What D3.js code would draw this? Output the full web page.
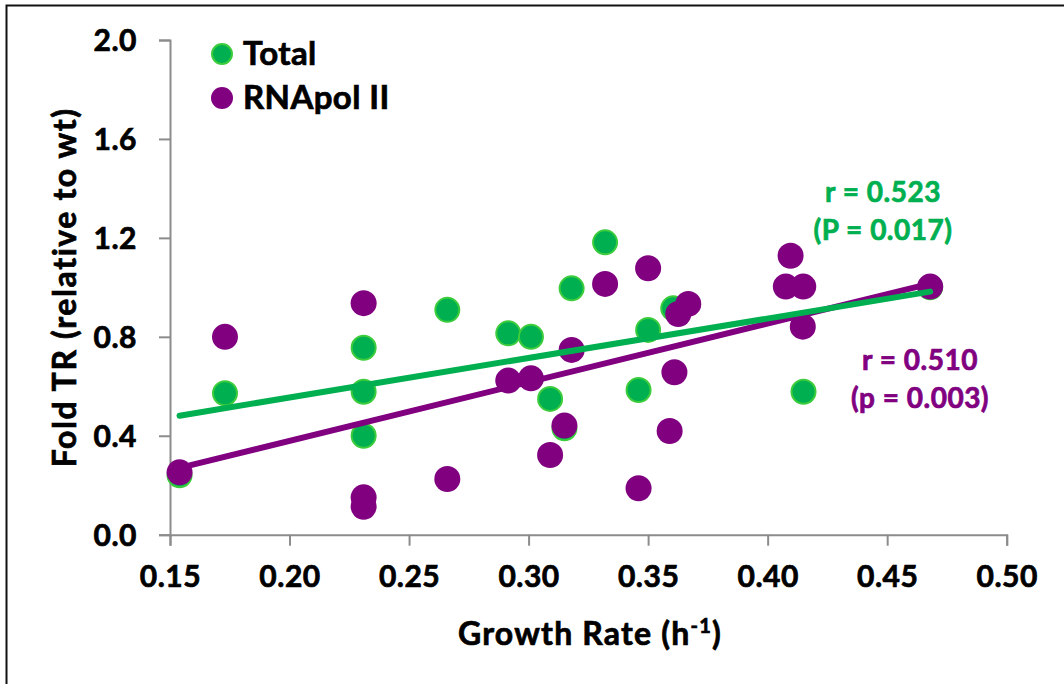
<!DOCTYPE html>
<html>
<head>
<meta charset="utf-8">
<script src="https://cdn.jsdelivr.net/npm/d3@7"></script>
<style>
  body { margin: 0; background: #fff; }
  svg text { font-family: Lato, "Open Sans", sans-serif; font-weight: bold; stroke: currentColor; stroke-width: 0.7px; paint-order: stroke; }
</style>
</head>
<body>
<div id="chart"></div>
<script>
// growth rate (h-1) and fold TR
var totalX = [0.154, 0.173, 0.231, 0.231, 0.231, 0.266, 0.2915, 0.301, 0.309, 0.315, 0.318, 0.332, 0.346, 0.350, 0.3605, 0.415, 0.468];
var totalY = [0.24, 0.572, 0.756, 0.578, 0.400, 0.909, 0.814, 0.800, 0.549, 0.43, 0.996, 1.182, 0.585, 0.828, 0.915, 0.578, 1.0];

var polX = [0.154, 0.173, 0.231, 0.231, 0.231, 0.266, 0.2915, 0.301, 0.309, 0.315, 0.318, 0.332, 0.346, 0.350, 0.359, 0.361, 0.3626, 0.3668, 0.4076, 0.4096, 0.4149, 0.4147, 0.468];
var polY = [0.252, 0.80, 0.936, 0.151, 0.113, 0.225, 0.623, 0.632, 0.322, 0.441, 0.747, 1.014, 0.188, 1.077, 0.419, 0.657, 0.892, 0.933, 1.003, 1.128, 1.003, 0.841, 1.003];

var xTicks = [0.15, 0.20, 0.25, 0.30, 0.35, 0.40, 0.45, 0.50];
var yTicks = [0.0, 0.4, 0.8, 1.2, 1.6, 2.0];

var seriesNames = ["Total", "RNApol II"];
var statsTotal = ["r = 0.523", "(P = 0.017)"];
var statsPol = ["r = 0.510", "(p = 0.003)"];

var green = "#00b050", greenEdge = "#3ccc3c", purple = "#800080";

var W = 1064, H = 684;
var margin = {top: 40, right: 57.3, bottom: 149.3, left: 170};

var svg = d3.select("#chart")
  .append("svg")
    .attr("width", W)
    .attr("height", H);

// outer frame
svg.append("rect")
  .attr("x", 6.5).attr("y", 5.5)
  .attr("width", W + 10).attr("height", H + 10)
  .attr("fill", "none")
  .attr("stroke", "#111")
  .attr("stroke-width", 2);

var x = d3.scaleLinear()
  .domain([0.15, 0.50])
  .range([margin.left, W - margin.right]);

var y = d3.scaleLinear()
  .domain([0, 2])
  .range([H - margin.bottom, margin.top]);

// axes
var xAxis = svg.append("g")
  .attr("transform", "translate(0," + y(0) + ")")
  .call(d3.axisBottom(x).tickValues(xTicks).tickFormat(d3.format(".2f")).tickSizeOuter(0).tickSize(11).tickPadding(20));

var yAxis = svg.append("g")
  .attr("transform", "translate(" + x(0.15) + ",0)")
  .call(d3.axisLeft(y).tickValues(yTicks).tickFormat(d3.format(".1f")).tickSizeOuter(0).tickSize(11).tickPadding(22));

[xAxis, yAxis].forEach(function(a) {
  a.selectAll("path, line").attr("stroke", "#8c8c8c").attr("stroke-width", 2);
  a.selectAll("text").attr("fill", "#000").style("color", "#000").style("font-size", "30px").style("letter-spacing", "0.5px");
});
yAxis.selectAll("text").attr("dy", "0.36em");

// axis titles
var xt = svg.append("text")
  .attr("x", 590).attr("y", 645)
  .attr("text-anchor", "middle")
  .style("font-size", "32px")
  .style("letter-spacing", "1.2px");
xt.append("tspan").text("Growth Rate (h");
xt.append("tspan").attr("dy", -12).style("font-size", "20px").text("-1");
xt.append("tspan").attr("dy", 12).text(")");

svg.append("text")
  .attr("transform", "translate(76," + ((y(0) + y(2)) / 2) + ") rotate(-90)")
  .attr("text-anchor", "middle")
  .style("font-size", "32px")
  .style("letter-spacing", "1.6px")
  .text("Fold TR (relative to wt)");

// least squares fit
function fit(xs, ys) {
  var mx = d3.mean(xs), my = d3.mean(ys);
  var sxy = d3.sum(xs, function(v, i) { return (v - mx) * (ys[i] - my); });
  var sxx = d3.sum(xs, function(v) { return (v - mx) * (v - mx); });
  var b = sxy / sxx;
  var x0 = d3.min(xs), x1 = d3.max(xs);
  return [[x0, my + b * (x0 - mx)], [x1, my + b * (x1 - mx)]];
}

var line = d3.line()
  .x(function(d) { return x(d[0]); })
  .y(function(d) { return y(d[1]); });

// markers
svg.append("g").selectAll("circle")
  .data(d3.zip(totalX, totalY))
  .enter().append("circle")
    .attr("cx", function(d) { return x(d[0]); })
    .attr("cy", function(d) { return y(d[1]); })
    .attr("r", 12)
    .attr("fill", green)
    .attr("stroke", greenEdge)
    .attr("stroke-width", 2);

svg.append("g").selectAll("circle")
  .data(d3.zip(polX, polY))
  .enter().append("circle")
    .attr("cx", function(d) { return x(d[0]); })
    .attr("cy", function(d) { return y(d[1]); })
    .attr("r", 13)
    .attr("fill", purple);

// trend lines
svg.append("path")
  .attr("d", line(fit(polX, polY)))
  .attr("fill", "none")
  .attr("stroke", purple)
  .attr("stroke-width", 6)
  .attr("stroke-linecap", "round");

svg.append("path")
  .attr("d", line(fit(totalX, totalY)))
  .attr("fill", "none")
  .attr("stroke", green)
  .attr("stroke-width", 6)
  .attr("stroke-linecap", "round");

// legend
var legend = svg.append("g");
seriesNames.forEach(function(name, i) {
  var ly = 54 + i * 44;
  legend.append("circle")
    .attr("cx", 222).attr("cy", ly)
    .attr("r", i === 0 ? 10 : 11)
    .attr("fill", i === 0 ? green : purple)
    .attr("stroke", i === 0 ? greenEdge : "none")
    .attr("stroke-width", 2);
  legend.append("text")
    .attr("x", 243).attr("y", ly + 11)
    .style("font-size", "33px")
    .style("letter-spacing", "0.4px")
    .text(name);
});

// correlation notes
statsTotal.forEach(function(t, i) {
  svg.append("text")
    .attr("x", 883).attr("y", 202 + i * 38)
    .attr("text-anchor", "middle")
    .attr("fill", green)
    .style("color", green)
    .style("font-size", "28px")
    .style("letter-spacing", "0.5px")
    .text(t);
});
statsPol.forEach(function(t, i) {
  svg.append("text")
    .attr("x", 920).attr("y", 370 + i * 38)
    .attr("text-anchor", "middle")
    .attr("fill", purple)
    .style("color", purple)
    .style("font-size", "28px")
    .style("letter-spacing", "0.5px")
    .text(t);
});
</script>
</body>
</html>
